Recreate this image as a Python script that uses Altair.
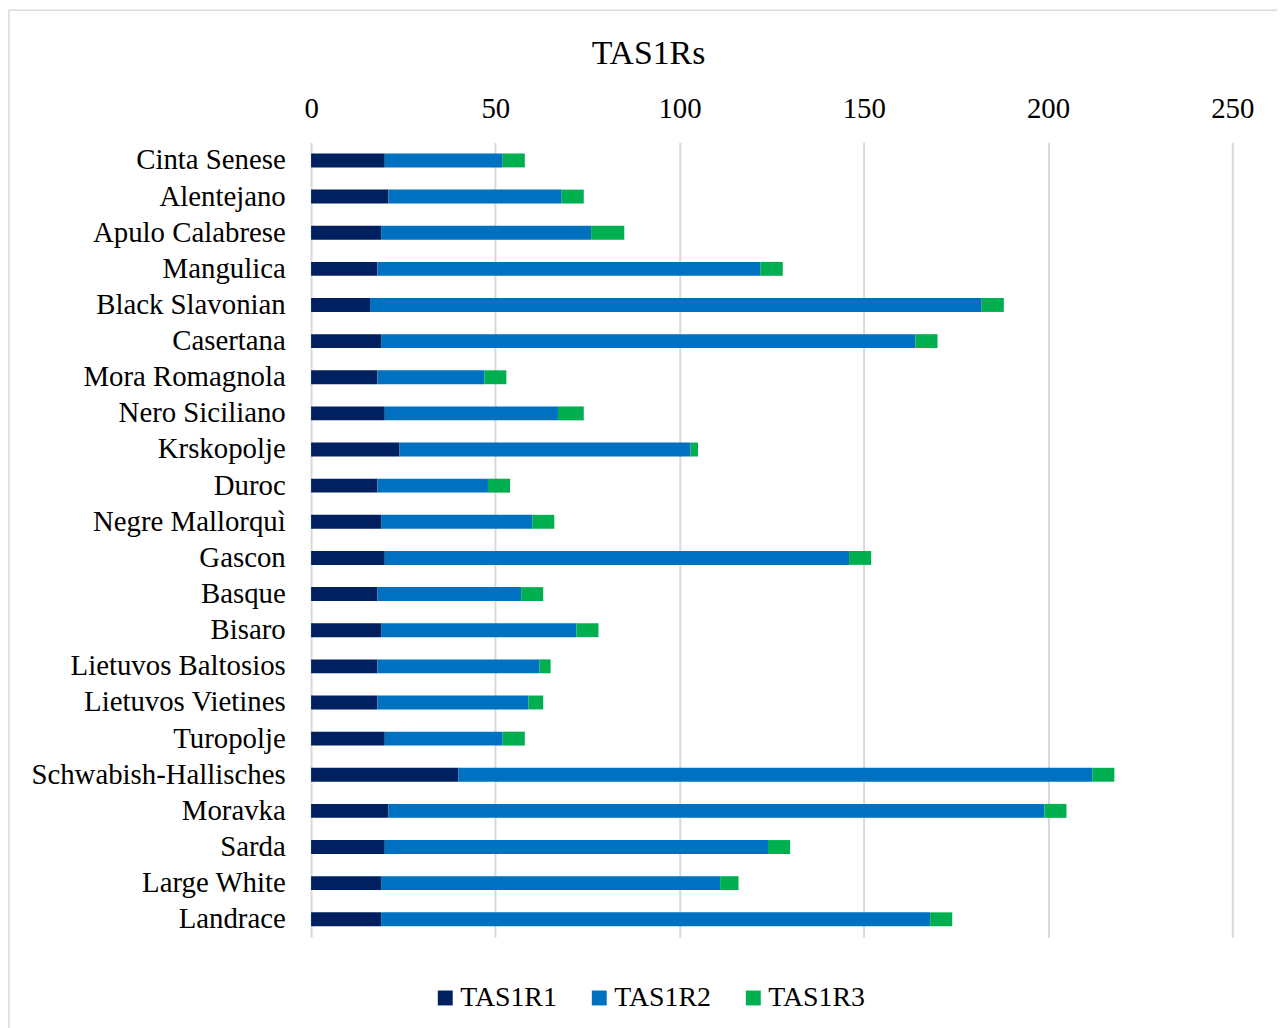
import altair as alt
import pandas as pd

breeds = ["Cinta Senese", "Alentejano", "Apulo Calabrese", "Mangulica", "Black Slavonian",
          "Casertana", "Mora Romagnola", "Nero Siciliano", "Krskopolje", "Duroc",
          "Negre Mallorquì", "Gascon", "Basque", "Bisaro", "Lietuvos Baltosios",
          "Lietuvos Vietines", "Turopolje", "Schwabish-Hallisches", "Moravka", "Sarda",
          "Large White", "Landrace"]
tas1r1 = [20, 21, 19, 18, 16, 19, 18, 20, 24, 18, 19, 20, 18, 19, 18, 18, 20, 40, 21, 20, 19, 19]
tas1r2 = [32, 47, 57, 104, 166, 145, 29, 47, 79, 30, 41, 126, 39, 53, 44, 41, 32, 172, 178, 104, 92, 149]
tas1r3 = [6, 6, 9, 6, 6, 6, 6, 7, 2, 6, 6, 6, 6, 6, 3, 4, 6, 6, 6, 6, 5, 6]
genes = ["TAS1R1", "TAS1R2", "TAS1R3"]
colors = ["#002060", "#0070C0", "#00B050"]
x_ticks = [0, 50, 100, 150, 200, 250]

rows = []
for i, b in enumerate(breeds):
    for k, (g, vals) in enumerate(zip(genes, [tas1r1, tas1r2, tas1r3])):
        rows.append({"breed": b, "gene": g, "value": vals[i], "ord": k})
df = pd.DataFrame(rows)

FONT = "Liberation Serif, Times New Roman, DejaVu Serif, serif"

bars = alt.Chart(df).mark_bar(size=14).encode(
    y=alt.Y("breed:N", sort=breeds, title=None,
            scale=alt.Scale(paddingInner=0.62, paddingOuter=0.31),
            axis=alt.Axis(domain=False, ticks=False, tickSize=0, labelPadding=26,
                          labelFontSize=29, labelColor="black", labelFont=FONT,
                          grid=False, labelLimit=400)),
    x=alt.X("value:Q", stack="zero", title=None,
            scale=alt.Scale(domain=[0, 250], nice=False),
            axis=alt.Axis(orient="top", values=x_ticks, domain=False, ticks=False, tickSize=0,
                          labelPadding=25, labelBaseline="alphabetic", labelFontSize=29,
                          labelColor="black", labelFont=FONT, grid=True,
                          gridColor="#d9d9d9", gridWidth=2, labelFlush=False)),
    color=alt.Color("gene:N", scale=alt.Scale(domain=genes, range=colors),
                    legend=alt.Legend(title=None, orient="none", direction="horizontal",
                                      columns=3, legendX=121, legendY=847, padding=0,
                                      symbolType="square", symbolSize=225, symbolStrokeWidth=0,
                                      labelFontSize=28, labelFont=FONT, labelColor="black",
                                      labelOffset=1, columnPadding=28)),
    order=alt.Order("ord:Q"),
)

frame = alt.Chart(pd.DataFrame({"a": [0]})).mark_rect(
    fill=None, stroke="#d9d9d9", strokeWidth=1.5
).encode(
    x=alt.value(-304), x2=alt.value(990), y=alt.value(-133), y2=alt.value(900)
)

chart = alt.layer(frame, bars).properties(
    width=927, height=800,
    autosize=alt.AutoSizeParams(type="none"),
    padding={"left": 305, "top": 132, "right": 45, "bottom": 88},
    title=alt.TitleParams("TAS1Rs", anchor="middle", fontSize=34, font=FONT,
                          fontWeight="normal", color="black", dx=-124, dy=109, offset=20,
                          baseline="alphabetic"),
).configure(
    font=FONT,
    view=alt.ViewConfig(stroke=None),
    legend=alt.LegendConfig(labelFont=FONT),
)

chart.save("out.html", embed_options={"renderer": "svg", "actions": False})
